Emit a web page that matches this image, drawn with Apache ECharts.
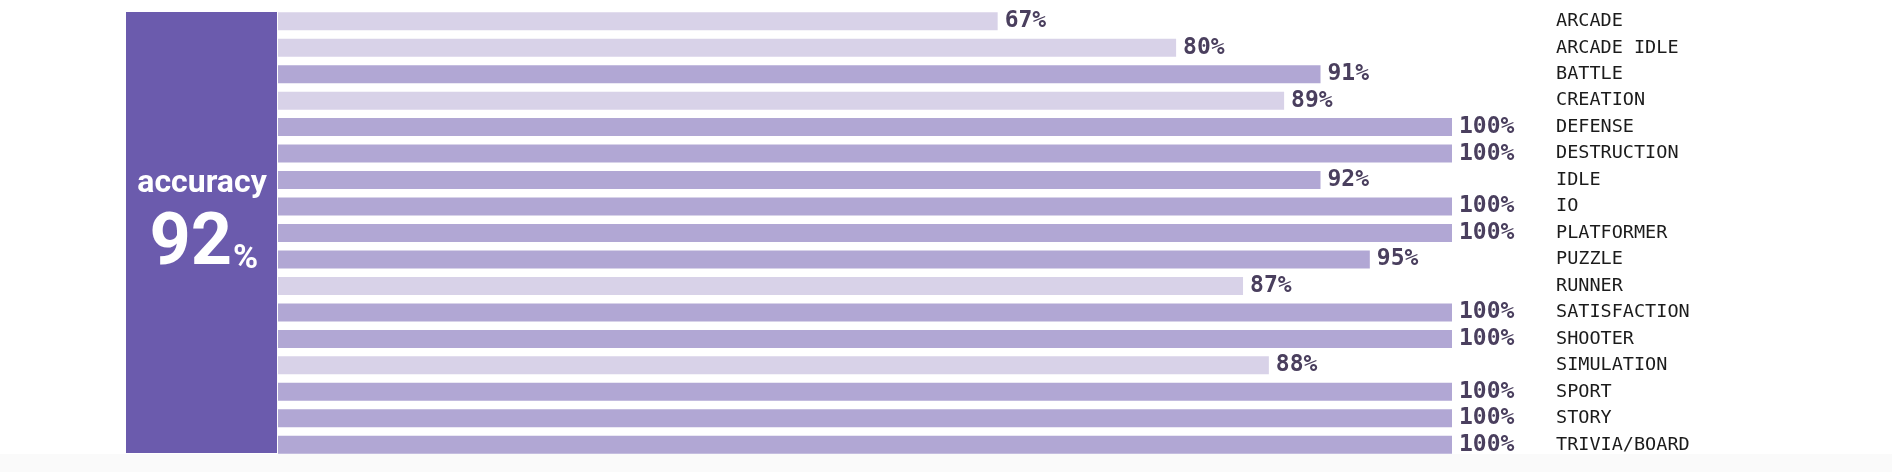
<!DOCTYPE html>
<html>
<head>
<meta charset="utf-8">
<script src="https://cdn.jsdelivr.net/npm/echarts@6/dist/echarts.min.js"></script>
<style>
html,body{margin:0;padding:0;background:#ffffff;}
#chart{width:1892px;height:472px;}
</style>
</head>
<body>
<div id="chart"></div>
<script>
// Categories (top to bottom)
var categories = ['ARCADE','ARCADE IDLE','BATTLE','CREATION','DEFENSE','DESTRUCTION','IDLE','IO','PLATFORMER','PUZZLE','RUNNER','SATISFACTION','SHOOTER','SIMULATION','SPORT','STORY','TRIVIA/BOARD'];
// Displayed accuracy per category (%)
var accuracy = [67, 80, 91, 89, 100, 100, 92, 100, 100, 95, 87, 100, 100, 88, 100, 100, 100];
// Bar length (share of full bar, %)
var barScore = [61.3, 76.5, 88.8, 85.7, 100, 100, 88.8, 100, 100, 93.0, 82.2, 100, 100, 84.4, 100, 100, 100];
// Overall headline
var overallLabel = 'accuracy';
var overallValue = 92;
var threshold = 90;

var chart = echarts.init(document.getElementById('chart'), null, {renderer: 'canvas'});

var seriesData = barScore.map(function (v, i) {
  return {
    value: v,
    itemStyle: { color: accuracy[i] < threshold ? '#D8D2E8' : '#B1A7D4' }
  };
});

var option = {
  backgroundColor: '#ffffff',
  animation: false,
  grid: { left: 278, right: 440, top: 8, bottom: 14 },
  xAxis: { type: 'value', min: 0, max: 100, show: false },
  yAxis: {
    type: 'category',
    data: categories,
    inverse: true,
    position: 'right',
    axisLine: { show: false },
    axisTick: { show: false },
    splitLine: { show: false },
    axisLabel: {
      margin: 104,
      align: 'left',
      fontFamily: 'DejaVu Sans Mono',
      fontSize: 18.5,
      color: '#1b1b1b'
    }
  },
  series: [{
    type: 'bar',
    data: seriesData,
    barWidth: 18,
    label: {
      show: true,
      position: 'right',
      distance: 7,
      fontFamily: 'DejaVu Sans Mono',
      fontWeight: 'bold',
      fontSize: 23,
      color: '#4A3F5E',
      formatter: function (p) { return accuracy[p.dataIndex] + '%'; }
    }
  }],
  graphic: [
    { type: 'rect', z: -1, shape: { x: 0, y: 454, width: 1892, height: 18 }, style: { fill: '#FAFAFA' } },
    { type: 'rect', z: 10, shape: { x: 126, y: 12, width: 151, height: 441 }, style: { fill: '#6B5BAD' } },
    { type: 'text', z: 11, x: 202, y: 184, style: { text: overallLabel, fill: '#ffffff', font: 'bold 32px Roboto', textAlign: 'center', textVerticalAlign: 'middle' } },
    { type: 'text', z: 11, x: 232, y: 246, style: { text: String(overallValue), fill: '#ffffff', font: 'bold 72px Roboto', textAlign: 'right', textVerticalAlign: 'middle' } },
    { type: 'text', z: 11, x: 233, y: 259, style: { text: '%', fill: '#ffffff', font: 'bold 34px Roboto', textAlign: 'left', textVerticalAlign: 'middle' } }
  ]
};
chart.setOption(option);
</script>
</body>
</html>
